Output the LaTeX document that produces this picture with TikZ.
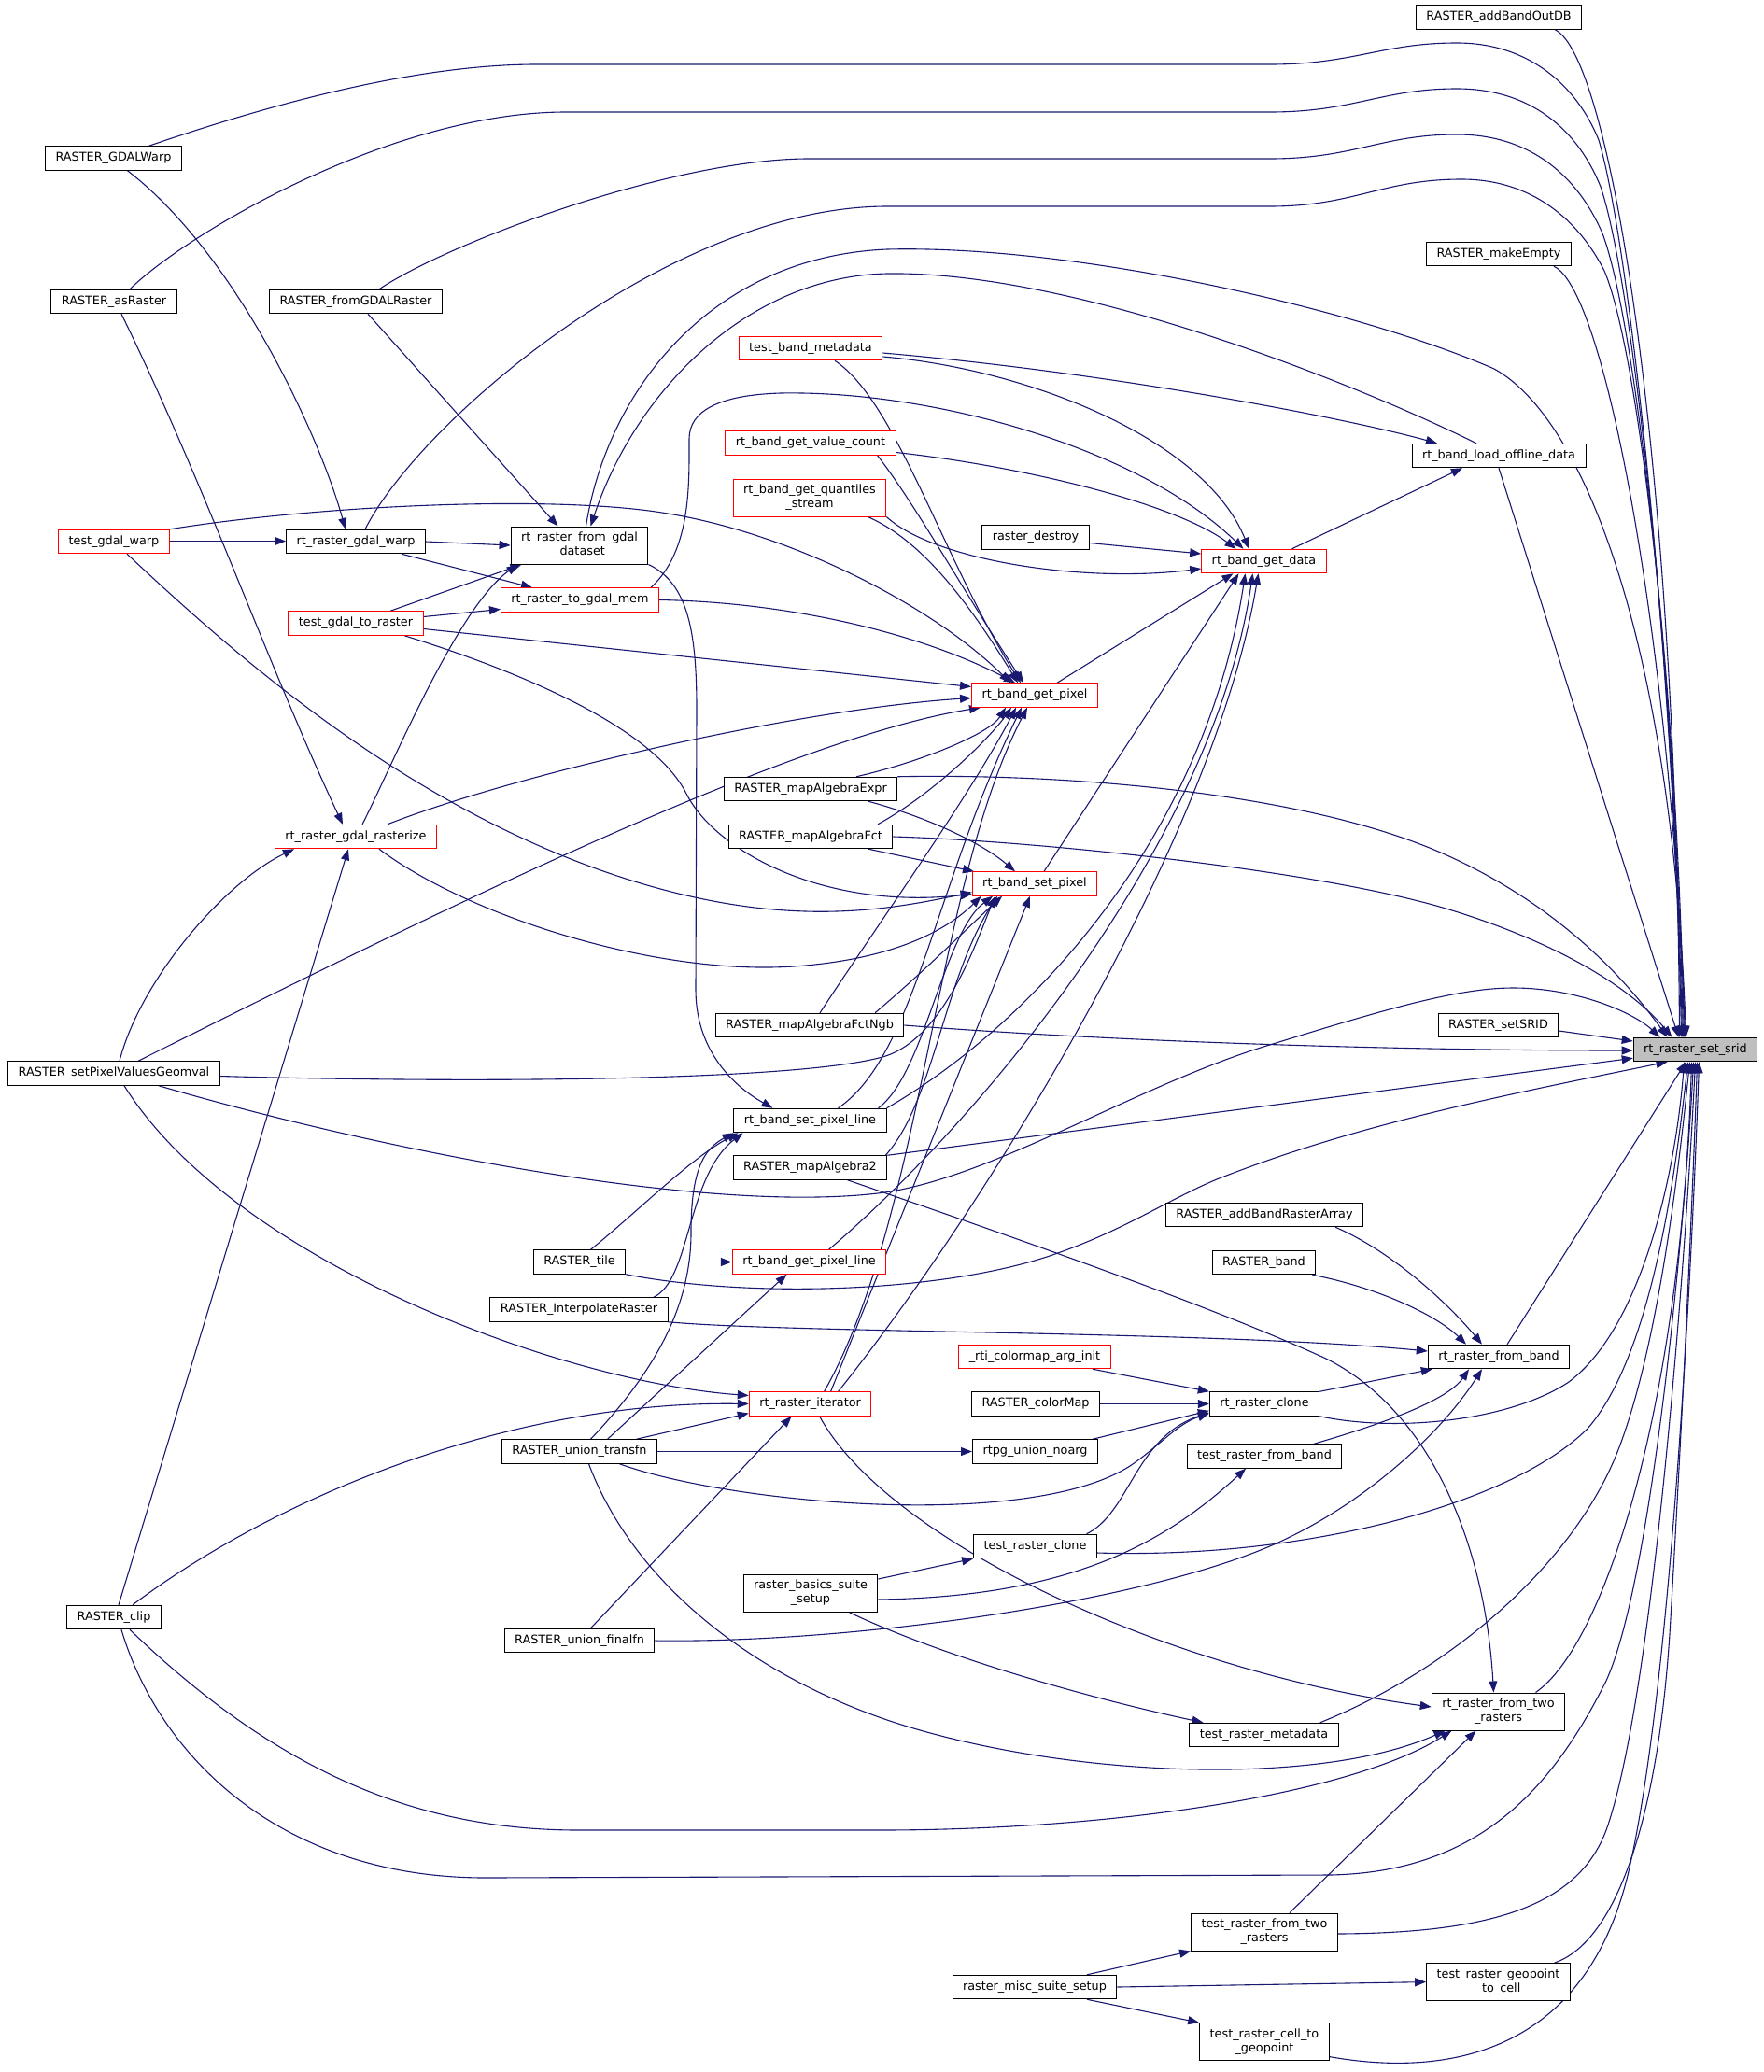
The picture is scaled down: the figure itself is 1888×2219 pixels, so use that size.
\documentclass[tikz,border=0pt]{standalone}
\usepackage{fontspec}
\setmainfont{DejaVu Sans}
\usetikzlibrary{arrows.meta,backgrounds}
\definecolor{callblue}{HTML}{191970}
\definecolor{redline}{HTML}{FF0000}
\definecolor{srcgray}{HTML}{BFBFBF}

\begin{document}
\begin{tikzpicture}[x=1pt,y=-1pt]
		\tikzset{box/.style={draw=black,fill=white,line width=1pt,inner xsep=11pt,inner ysep=3pt,
				minimum height=25.5pt,align=center,font=\fontsize{12.8}{15}\selectfont}};
		\tikzset{redbox/.style={box,draw=redline}};
		\tikzset{two/.style={minimum height=40pt}};
		\tikzset{link/.style={draw=callblue,line width=1.1pt,-{Triangle[length=12pt,width=9pt]}}};
		
		\useasboundingbox (0,0) rectangle (1888,2219);
		
		\node (aod) at (1605,18.5) [box] {RASTER\_addBandOutDB};
		\node (gdw) at (121.5,169.5) [box] {RASTER\_GDALWarp};
		\node (asr) at (122,323) [box] {RASTER\_asRaster};
		\node (fgr) at (381,323) [box] {RASTER\_fromGDALRaster};
		\node (mke) at (1605,272) [box] {RASTER\_makeEmpty};
		\node (tbm) at (868,373) [redbox] {test\_band\_metadata};
		\node (vc) at (868,474.5) [redbox] {rt\_band\_get\_value\_count};
		\node (lod) at (1605,488) [box] {rt\_band\_load\_offline\_data};
		\node (qs) at (867,533) [redbox,two] {rt\_band\_get\_quantiles\\\_stream};
		\node (tgw) at (122,580) [redbox] {test\_gdal\_warp};
		\node (rgw) at (381,580) [box] {rt\_raster\_gdal\_warp};
		\node (ds) at (620.5,584) [box,two] {rt\_raster\_from\_gdal\\\_dataset};
		\node (rd) at (1109,575.5) [box] {raster\_destroy};
		\node (gd) at (1353.5,601) [redbox] {rt\_band\_get\_data};
		\node (tgm) at (621,642.5) [redbox] {rt\_raster\_to\_gdal\_mem};
		\node (tgr) at (381,667.5) [redbox] {test\_gdal\_to\_raster};
		\node (gp) at (1108,744.5) [redbox] {rt\_band\_get\_pixel};
		\node (mae) at (868,845) [box] {RASTER\_mapAlgebraExpr};
		\node (maf) at (868,896) [box] {RASTER\_mapAlgebraFct};
		\node (rz) at (381,896) [redbox] {rt\_raster\_gdal\_rasterize};
		\node (sp) at (1108,946.5) [redbox] {rt\_band\_set\_pixel};
		\node (ngb) at (867,1098) [box] {RASTER\_mapAlgebraFctNgb};
		\node (ssr) at (1604.5,1098) [box] {RASTER\_setSRID};
		\node (srid) at (1815.5,1124) [box,fill=srcgray] {rt\_raster\_set\_srid};
		\node (geo) at (122,1149.5) [box] {RASTER\_setPixelValuesGeomval};
		\node (spl) at (867.5,1200) [box] {rt\_band\_set\_pixel\_line};
		\node (ma2) at (867.5,1250.5) [box] {RASTER\_mapAlgebra2};
		\node (abra) at (1354,1301) [box] {RASTER\_addBandRasterArray};
		\node (tile) at (620.5,1351.5) [box] {RASTER\_tile};
		\node (gpl) at (866.5,1351.5) [redbox] {rt\_band\_get\_pixel\_line};
		\node (band) at (1353.5,1352) [box] {RASTER\_band};
		\node (ipr) at (620,1402.5) [box] {RASTER\_InterpolateRaster};
		\node (fb) at (1605,1453) [box] {rt\_raster\_from\_band};
		\node (cai) at (1108,1453) [redbox] {\_rti\_colormap\_arg\_init};
		\node (it) at (867.6,1503.5) [redbox] {rt\_raster\_iterator};
		\node (cmap) at (1109,1503.5) [box] {RASTER\_colorMap};
		\node (cl) at (1354,1503.5) [box] {rt\_raster\_clone};
		\node (ut) at (620.5,1554.5) [box] {RASTER\_union\_transfn};
		\node (nrg) at (1108.5,1554.5) [box] {rtpg\_union\_noarg};
		\node (trfb) at (1354,1559.5) [box] {test\_raster\_from\_band};
		\node (trc) at (1108.5,1656) [box] {test\_raster\_clone};
		\node (bss) at (868,1706) [box,two] {raster\_basics\_suite\\\_setup};
		\node (clip) at (122,1732) [box] {RASTER\_clip};
		\node (uf) at (620.5,1757) [box] {RASTER\_union\_finalfn};
		\node (f2) at (1604.5,1833) [box,two] {rt\_raster\_from\_two\\\_rasters};
		\node (trm) at (1353.5,1858) [box] {test\_raster\_metadata};
		\node (tr2) at (1354,2069) [box,two] {test\_raster\_from\_two\\\_rasters};
		\node (mss) at (1108,2128) [box] {raster\_misc\_suite\_setup};
		\node (g2c) at (1604.5,2122.6) [box,two] {test\_raster\_geopoint\\\_to\_cell};
		\node (c2g) at (1354,2186.6) [box,two] {test\_raster\_cell\_to\\\_geopoint};
		
		\begin{scope}[on background layer]
		% into rt_raster_set_srid
		\draw[link] ([xshift=-29pt]aod.south east) .. controls (1725,60) and (1795,500) .. ([xshift=-17pt]srid.north);
		\draw[link] ([xshift=38pt]gdw.north) .. controls (280,115) and (440,69) .. (575,69) -- (1360,69) .. controls (1450,69) and (1480,46) .. (1560,46) .. controls (1640,46) and (1690,95) .. (1712,150) .. controls (1745,260) and (1792,700) .. ([xshift=-15pt]srid.north);
		\draw[link] ([xshift=17pt]asr.north) .. controls (200,250) and (420,120) .. (606,120) -- (1360,120) .. controls (1450,120) and (1480,95) .. (1560,95) .. controls (1640,95) and (1690,140) .. (1714,200) .. controls (1748,300) and (1792,700) .. ([xshift=-14pt]srid.north);
		\draw[link] ([xshift=25pt]fgr.north) .. controls (480,260) and (720,170) .. (866,170) -- (1360,170) .. controls (1450,170) and (1480,144) .. (1560,144) .. controls (1640,144) and (1690,190) .. (1716,250) .. controls (1750,340) and (1793,700) .. ([xshift=-13pt]srid.north);
		\draw[link] ([xshift=10pt]rgw.north) .. controls (450,450) and (720,221) .. (950,221) -- (1360,221) .. controls (1450,221) and (1480,192) .. (1565,192) .. controls (1640,192) and (1690,235) .. (1718,290) .. controls (1752,370) and (1794,700) .. ([xshift=-12pt]srid.north);
		\draw[link] ([xshift=-19pt]mke.south east) .. controls (1720,310) and (1790,700) .. ([xshift=-11pt]srid.north);
		\draw[link] ([xshift=7pt]ds.north) .. controls (650,420) and (760,275) .. (950,267) .. controls (1150,262) and (1450,330) .. (1600,395) .. controls (1700,450) and (1790,700) .. ([xshift=-10pt]srid.north);
		\draw[link] (lod.south) -- ([xshift=-18pt]srid.north);
		\draw[link] (mae.north east) .. controls (1150,828) and (1400,850) .. (1545,914) .. controls (1640,956) and (1720,1020) .. ([xshift=-30pt]srid.north);
		\draw[link] (maf.east) .. controls (1100,900) and (1400,930) .. (1545,972) .. controls (1650,1003) and (1740,1050) .. ([xshift=-25pt]srid.north);
		\draw[link] (ngb.east) .. controls (1200,1116) and (1500,1125) .. ([yshift=-1pt]srid.west);
		\draw[link] ([yshift=-6pt]ssr.east) -- ([yshift=9pt]srid.west);
		\draw[link] ([xshift=48pt]geo.south) .. controls (400,1230) and (750,1300) .. (940,1278) .. controls (1060,1264) and (1220,1160) .. (1363,1118) .. controls (1480,1082) and (1560,1058) .. (1620,1058) .. controls (1690,1058) and (1750,1085) .. ([xshift=-38pt]srid.north);
		\draw[link] (ma2.north east) -- ([yshift=4pt]srid.south west);
		\draw[link] (tile.south east) .. controls (800,1390) and (1000,1385) .. (1121,1346) .. controls (1200,1320) and (1250,1285) .. (1303,1263) .. controls (1450,1205) and (1600,1175) .. ([xshift=-30pt]srid.south);
		\draw[link] (cl.south east) .. controls (1500,1535) and (1620,1520) .. (1680,1480) .. controls (1760,1420) and (1795,1250) .. ([xshift=-12pt]srid.south);
		\draw[link] ([xshift=9pt]fb.north) -- ([xshift=-10pt]srid.south);
		\draw[link] ([yshift=-7pt]trc.east) .. controls (1400,1670) and (1620,1610) .. (1700,1530) .. controls (1770,1450) and (1795,1250) .. ([xshift=-8pt]srid.south);
		\draw[link] ([xshift=-20pt]trm.north east) .. controls (1550,1790) and (1680,1680) .. (1730,1560) .. controls (1775,1450) and (1798,1250) .. ([xshift=-6pt]srid.south);
		\draw[link] ([xshift=40pt]f2.north) .. controls (1720,1760) and (1800,1500) .. ([xshift=-4pt]srid.south);
		\draw[link] ([xshift=8pt]clip.south) .. controls (170,1880) and (300,2011) .. (520,2011) -- (1424,2008) .. controls (1580,2005) and (1660,1920) .. (1720,1800) .. controls (1770,1690) and (1805,1300) .. ([xshift=-2pt]srid.south);
		\draw[link] ([yshift=-2pt]tr2.east) .. controls (1600,2070) and (1690,2040) .. (1720,1960) .. controls (1770,1820) and (1805,1350) .. (srid.south);
		\draw[link] ([xshift=60pt]g2c.north) .. controls (1730,2080) and (1775,1950) .. (1788,1750) .. controls (1800,1550) and (1812,1300) .. ([xshift=2pt]srid.south);
		\draw[link] ([yshift=-16pt]c2g.east) .. controls (1550,2225) and (1700,2200) .. (1745,2000) .. controls (1790,1800) and (1812,1350) .. ([xshift=4pt]srid.south);
		
		% upper part
		\draw[link] ([yshift=-5pt]tbm.east) .. controls (1200,400) and (1450,450) .. ([xshift=-66pt]lod.north);
		\draw[link] ([yshift=-9pt]tbm.east) .. controls (1100,395) and (1290,470) .. ([xshift=-16pt]gd.north);
		\draw[link] ([yshift=-10pt]vc.east) .. controls (1100,500) and (1260,540) .. ([xshift=-30pt]gd.north);
		\draw[link] (qs.south east) .. controls (1000,600) and (1160,625) .. ([yshift=-8pt]gd.west);
		\draw[link] ([yshift=-6pt]rd.east) -- ([yshift=8pt]gd.west);
		\draw[link] ([xshift=30pt]gd.north) -- ([xshift=-39pt]lod.south);
		\draw[link] ([xshift=-24pt]lod.north) .. controls (1450,410) and (1150,290) .. (950,293) .. controls (800,296) and (680,420) .. ([xshift=12pt]ds.north);
		\draw[link] ([xshift=13pt]fgr.south) -- ([xshift=-23pt]ds.north);
		\draw[link] ([xshift=15pt]gdw.south) .. controls (250,270) and (340,460) .. ([xshift=-11pt]rgw.north);
		\draw[link] ([xshift=8pt]asr.south) .. controls (220,520) and (290,720) .. ([xshift=-14pt]rz.north);
		\draw[link] ([yshift=0.5pt]tgw.east) -- ([yshift=0.5pt]rgw.west);
		\draw[link] (tgw.north east) .. controls (350,540) and (600,530) .. (715,550) .. controls (850,572) and (1000,650) .. ([xshift=-26pt]gp.north);
		\draw[link] ([xshift=14pt]tgw.south) .. controls (250,700) and (450,880) .. (700,950) .. controls (850,992) and (950,975) .. ([yshift=-9pt]sp.west);
		\draw[link] (rgw.east) -- (ds.west);
		\draw[link] ([xshift=49pt]rgw.south) -- ([xshift=-51pt]tgm.north);
		\draw[link] ([xshift=37pt]tgr.north) -- ([xshift=12pt]ds.south west);
		\draw[link] ([yshift=7pt]tgr.east) -- ([yshift=-10pt]tgm.west);
		\draw[link] ([yshift=-6pt]tgr.east) -- ([yshift=9pt]gp.west);
		\draw[link] ([xshift=52pt]tgr.south) .. controls (560,720) and (700,780) .. (735,850) .. controls (765,910) and (880,975) .. ([yshift=-11pt]sp.west);
		\draw[link] (tgm.east) .. controls (850,645) and (990,680) .. ([xshift=-21pt]gp.north);
		\draw[link] ([xshift=76pt]tgm.north) .. controls (740,590) and (738,520) .. (738,470) .. controls (738,440) and (770,423) .. (836,421) .. controls (1000,418) and (1220,480) .. ([xshift=-22pt]gd.north);
		\draw[link] ([xshift=26pt]tbm.south) .. controls (960,430) and (1010,600) .. ([xshift=-15pt]gp.north);
		\draw[link] ([xshift=-20pt]vc.south east) .. controls (980,540) and (1030,630) .. ([xshift=-12pt]gp.north);
		\draw[link] ([xshift=-20pt]qs.south east) .. controls (990,580) and (1040,650) .. ([xshift=-18pt]gp.north);
		\draw[link] (ds.south east) .. controls (738,625) and (746,680) .. (746,760) -- (745,1060) .. controls (745,1120) and (780,1160) .. ([xshift=-40pt]spl.north);
		
		% middle part
		\draw[link] ([xshift=7pt]rz.north) .. controls (420,820) and (490,650) .. ([xshift=8pt]ds.south west);
		\draw[link] ([xshift=34pt]rz.north) .. controls (550,830) and (850,760) .. ([yshift=-3pt]gp.west);
		\draw[link] ([xshift=25pt]rz.south) .. controls (500,980) and (700,1045) .. (850,1035) .. controls (950,1028) and (1010,1000) .. ([xshift=10pt]sp.south west);
		\draw[link] ([xshift=6pt]geo.north) .. controls (150,1050) and (240,945) .. ([xshift=-66pt]rz.south);
		\draw[link] ([xshift=26pt]geo.north) .. controls (500,960) and (850,790) .. ([xshift=-58pt]gp.south);
		\draw[link] ([yshift=-3pt]geo.east) .. controls (500,1160) and (850,1158) .. (945,1132) .. controls (1010,1114) and (1045,1010) .. ([xshift=25pt]sp.south west);
		\draw[link] ([xshift=11pt]geo.south) .. controls (250,1350) and (600,1480) .. ([yshift=9pt]it.west);
		\draw[link] ([xshift=49pt]mae.north) .. controls (990,815) and (1060,785) .. ([xshift=-31pt]gp.south);
		\draw[link] ([xshift=62pt]mae.south) .. controls (1010,880) and (1060,910) .. ([xshift=-21pt]sp.north);
		\draw[link] ([xshift=72pt]maf.north) .. controls (1000,850) and (1060,790) .. ([xshift=-25pt]gp.south);
		\draw[link] ([xshift=62pt]maf.south) -- ([xshift=-65pt]sp.north);
		\draw[link] ([xshift=11pt]ngb.north) .. controls (940,990) and (1040,850) .. ([xshift=-20pt]gp.south);
		\draw[link] ([xshift=70pt]ngb.north) .. controls (990,1040) and (1040,990) .. ([xshift=-35pt]sp.south);
		\draw[link] ([xshift=30pt]spl.north) .. controls (980,1130) and (1000,950) .. ([xshift=-14pt]gp.south);
		\draw[link] ([xshift=73pt]spl.north) .. controls (990,1150) and (1010,1000) .. ([xshift=-45pt]sp.south);
		\draw[link] (spl.north east) .. controls (1100,1100) and (1290,900) .. ([xshift=-20pt]gd.south);
		\draw[link] ([xshift=-2pt]ma2.north east) .. controls (1000,1180) and (1010,1050) .. ([xshift=-40pt]sp.south);
		\draw[link] ([xshift=40pt]ma2.south) .. controls (1100,1330) and (1300,1400) .. (1420,1455) .. controls (1530,1510) and (1590,1650) .. ([xshift=-5pt]f2.north);
		\draw[link] ([xshift=24pt]gp.north) -- ([xshift=-33pt]gd.south);
		\draw[link] ([xshift=10pt]sp.north) -- ([xshift=-27pt]gd.south);
		\draw[link] ([xshift=21pt]gpl.north) .. controls (1050,1200) and (1300,900) .. ([xshift=-12pt]gd.south);
		\draw[link] ([xshift=15pt]it.north) .. controls (990,1300) and (1000,950) .. ([xshift=-8pt]gp.south);
		\draw[link] ([xshift=22pt]it.north) -- ([xshift=-5pt]sp.south);
		\draw[link] ([xshift=30pt]it.north) .. controls (1050,1300) and (1300,900) .. ([xshift=-6pt]gd.south);
		\draw[link] ([xshift=10pt]it.south) .. controls (950,1650) and (1250,1790) .. ([yshift=5pt]f2.west);
		
		% lower part
		\draw[link] ([xshift=5pt]clip.north) -- ([xshift=-8pt]rz.south);
		\draw[link] ([xshift=20pt]clip.north) .. controls (300,1600) and (550,1500) .. (it.west);
		\draw[link] ([xshift=17pt]clip.south) .. controls (300,1900) and (450,1960) .. (620,1960) -- (940,1960) .. controls (1200,1960) and (1450,1920) .. ([xshift=-50pt]f2.south);
		\draw[link] ([xshift=12pt]tile.north) .. controls (680,1300) and (740,1240) .. ([xshift=5pt]spl.south west);
		\draw[link] (tile.east) -- (gpl.west);
		\draw[link] ([xshift=80pt]ipr.north) .. controls (740,1370) and (735,1260) .. ([xshift=10pt]spl.south west);
		\draw[link] (ipr.south east) .. controls (850,1428) and (1300,1425) .. ([yshift=6pt]fb.west);
		\draw[link] ([xshift=12pt]ut.north) .. controls (700,1470) and (740,1400) .. (740,1320) .. controls (740,1250) and (755,1230) .. (spl.south west);
		\draw[link] ([xshift=30pt]ut.north) -- ([xshift=-24pt]gpl.south);
		\draw[link] ([xshift=61pt]ut.north) -- ([yshift=-10pt]it.west);
		\draw[link] (ut.east) -- (nrg.west);
		\draw[link] ([xshift=43pt]ut.south) .. controls (780,1610) and (1100,1640) .. (1210,1570) .. controls (1240,1550) and (1260,1525) .. ([yshift=3pt]cl.south west);
		\draw[link] ([xshift=10pt]ut.south) .. controls (680,1700) and (820,1810) .. (1000,1857) .. controls (1180,1905) and (1420,1910) .. ([xshift=-57pt]f2.south);
		\draw[link] ([xshift=12pt]uf.north) -- ([xshift=-20pt]it.south);
		\draw[link] (uf.east) .. controls (900,1760) and (1200,1720) .. (1350,1660) .. controls (1450,1620) and (1540,1540) .. ([xshift=-18pt]fb.south);
		\draw[link] ([xshift=76pt]abra.south) .. controls (1490,1340) and (1550,1395) .. ([xshift=-18pt]fb.north);
		\draw[link] ([xshift=-4pt]band.south east) .. controls (1480,1380) and (1540,1410) .. ([xshift=-35pt]fb.north);
		\draw[link] (cl.north east) -- ([xshift=5pt]fb.south west);
		\draw[link] ([xshift=53pt]trfb.north) .. controls (1480,1525) and (1550,1500) .. ([xshift=-32pt]fb.south);
		\draw[link] ([xshift=62pt]cai.south) -- (cl.north west);
		\draw[link] (cmap.east) -- (cl.west);
		\draw[link] ([xshift=-6pt]nrg.north east) -- ([yshift=6pt]cl.south west);
		\draw[link] ([xshift=55pt]trc.north) .. controls (1210,1620) and (1215,1540) .. ([yshift=4pt]cl.south west);
		\draw[link] ([yshift=15pt]bss.east) -- (trc.south west);
		\draw[link] ([yshift=-7pt]bss.east) .. controls (1150,1710) and (1250,1650) .. ([xshift=-20pt]trfb.south);
		\draw[link] ([xshift=41pt]bss.south) .. controls (1000,1770) and (1150,1815) .. ([xshift=-65pt]trm.north);
		\draw[link] ([xshift=27pt]tr2.north) -- ([xshift=-24pt]f2.south);
		\draw[link] ([xshift=56pt]mss.north) -- (tr2.south west);
		\draw[link] (mss.east) -- (g2c.west);
		\draw[link] ([xshift=56pt]mss.south) -- (c2g.north west);
		\end{scope}
\end{tikzpicture}
\end{document}
